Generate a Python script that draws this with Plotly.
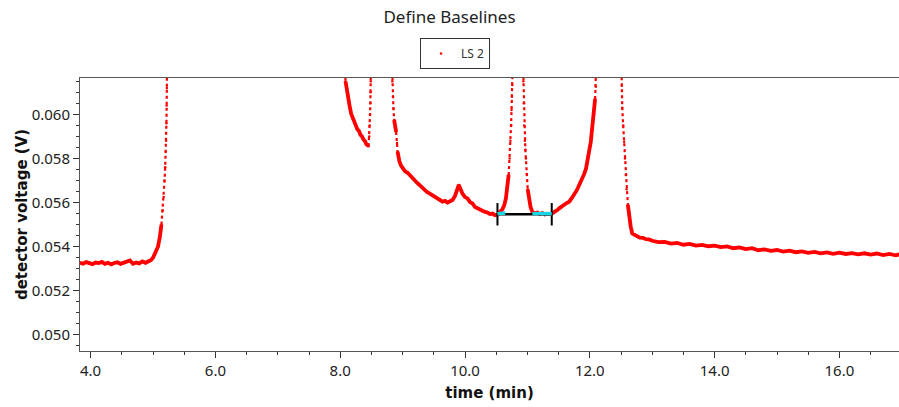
import plotly.graph_objects as go

# ---- data (time in min, detector voltage in V) ----
seg1_t = [3.83, 3.88, 3.93, 3.98, 4.03, 4.08, 4.13, 4.18, 4.23, 4.28, 4.33, 4.38, 4.43, 4.48, 4.53,
          4.58, 4.63, 4.68, 4.73, 4.78, 4.83, 4.88, 4.93, 4.97, 5.00, 5.04, 5.08, 5.11, 5.135, 5.155,
          5.17, 5.185, 5.195, 5.205, 5.21, 5.215, 5.219, 5.222, 5.226]
seg1_v = [0.05327, 0.05323, 0.05330, 0.05325, 0.05321, 0.05328, 0.05326, 0.05331, 0.05322, 0.05327,
          0.05320, 0.05326, 0.05329, 0.05322, 0.05326, 0.05331, 0.05338, 0.05323, 0.05328, 0.05324,
          0.05333, 0.05327, 0.05335, 0.05340, 0.05350, 0.05372, 0.05400, 0.05445, 0.05500, 0.05565,
          0.05625, 0.05700, 0.05760, 0.05830, 0.05880, 0.05960, 0.06040, 0.06120, 0.06250]

seg2_t = [8.078, 8.085, 8.10, 8.12, 8.135, 8.15, 8.175, 8.20, 8.225, 8.25, 8.275, 8.30, 8.325, 8.35,
          8.375, 8.40, 8.42, 8.44, 8.455, 8.465, 8.472, 8.478, 8.483, 8.487, 8.490, 8.494]
seg2_v = [0.06250, 0.06150, 0.06118, 0.06088, 0.06062, 0.06040, 0.06003, 0.05982, 0.05960, 0.05950,
          0.05932, 0.05925, 0.05907, 0.05900, 0.05885, 0.05878, 0.05864, 0.05860, 0.05856, 0.05900,
          0.05950, 0.06000, 0.06050, 0.06100, 0.06150, 0.06250]

seg3_t = [8.828, 8.835, 8.845, 8.853, 8.865, 8.88, 8.896, 8.91, 8.92, 8.935, 8.95, 8.975, 9.00, 9.04,
          9.08, 9.11, 9.15, 9.19, 9.23, 9.27, 9.31, 9.35, 9.39, 9.43, 9.48, 9.52, 9.56, 9.60, 9.64,
          9.68, 9.72, 9.76, 9.80, 9.84, 9.87, 9.90, 9.93, 9.96, 10.00, 10.04, 10.08, 10.12, 10.16,
          10.20, 10.24, 10.28, 10.32, 10.36, 10.40, 10.44, 10.48, 10.52, 10.56, 10.60, 10.63, 10.656,
          10.68, 10.70, 10.715, 10.728, 10.738, 10.746, 10.752, 10.758, 10.762, 10.766]
seg3_v = [0.06250, 0.06150, 0.06080, 0.06027, 0.05975, 0.05940, 0.05920, 0.05870, 0.05830, 0.05805,
          0.05785, 0.05768, 0.05755, 0.05742, 0.05735, 0.05725, 0.05712, 0.05702, 0.05690, 0.05680,
          0.05668, 0.05660, 0.05648, 0.05642, 0.05634, 0.05628, 0.05618, 0.05614, 0.05604, 0.05608,
          0.05600, 0.05606, 0.05612, 0.05630, 0.05650, 0.05680, 0.05660, 0.05640, 0.05625, 0.05619,
          0.05602, 0.05596, 0.05580, 0.05574, 0.05566, 0.05562, 0.05558, 0.05555, 0.05548, 0.05550,
          0.05543, 0.05545, 0.05555, 0.05570, 0.05589, 0.05620, 0.05680, 0.05725, 0.05800, 0.05880,
          0.05951, 0.06020, 0.06080, 0.06133, 0.06180, 0.06250]

seg4_t = [10.928, 10.935, 10.942, 10.949, 10.958, 10.967, 10.976, 10.99, 11.005, 11.029, 11.05, 11.08,
          11.12, 11.16, 11.20, 11.24, 11.28, 11.32, 11.36, 11.40, 11.44, 11.48, 11.51, 11.55, 11.59,
          11.63, 11.67, 11.71, 11.75, 11.79, 11.83, 11.87, 11.91, 11.94, 11.965, 11.99, 12.016,
          12.035, 12.055, 12.07, 12.085, 12.096, 12.105]
seg4_v = [0.06250, 0.06150, 0.06050, 0.05950, 0.05880, 0.05840, 0.05800, 0.05730, 0.05660, 0.05604,
          0.05580, 0.05558, 0.05552, 0.05555, 0.05548, 0.05552, 0.05546, 0.05550, 0.05548, 0.05552,
          0.05558, 0.05566, 0.05574, 0.05580, 0.05590, 0.05598, 0.05604, 0.05620, 0.05636, 0.05655,
          0.05680, 0.05702, 0.05730, 0.05755, 0.05790, 0.05830, 0.05876, 0.05930, 0.05985, 0.06027,
          0.06070, 0.06125, 0.06250]

seg5_t = [12.505, 12.512, 12.52, 12.535, 12.55, 12.563, 12.576, 12.59, 12.61, 12.63, 12.656, 12.68,
          12.72, 12.76, 12.80, 12.85, 12.90, 12.95,
          13.0, 13.1, 13.2, 13.3, 13.4, 13.5, 13.6, 13.7, 13.8, 13.9,
          14.0, 14.1, 14.2, 14.3, 14.4, 14.5, 14.6, 14.7, 14.8, 14.9,
          15.0, 15.1, 15.2, 15.3, 15.4, 15.5, 15.6, 15.7, 15.8, 15.9,
          16.0, 16.1, 16.2, 16.3, 16.4, 16.5, 16.6, 16.7, 16.8, 16.9, 16.96]
seg5_v = [0.06250, 0.06130, 0.06030, 0.05950, 0.05876, 0.05800, 0.05725, 0.05660, 0.05590, 0.05540,
          0.05490, 0.05460, 0.05452, 0.05447, 0.05441, 0.05440, 0.05434, 0.05433,
          0.05427, 0.05421, 0.05422, 0.05414, 0.05417, 0.05409, 0.05413, 0.05405, 0.05408, 0.05402,
          0.05405, 0.05398, 0.05401, 0.05393, 0.05397, 0.05389, 0.05393, 0.05384, 0.05388, 0.05381,
          0.05385, 0.05378, 0.05382, 0.05375, 0.05379, 0.05372, 0.05376, 0.05370, 0.05374, 0.05368,
          0.05373, 0.05367, 0.05371, 0.05365, 0.05370, 0.05364, 0.05369, 0.05362, 0.05367, 0.05361,
          0.05365]

# baseline definition (start / end time and level), highlighted baseline regions
baseline_t = [10.52, 11.39]
baseline_v = [0.05547, 0.05547]
region1_t = [10.52, 10.645]
region1_v = [0.05549, 0.05553]
region2_t = [11.08, 11.39]
region2_v = [0.05550, 0.05549]

series_name = "LS 2"
title_text = "Define Baselines"

# ---- split each segment into dense (solid) runs and steep (sparse/dotted) runs ----
STEEP = 0.03  # V/min: above this the detector points are visibly separated
solid_t, solid_v, dot_t, dot_v = [], [], [], []
all_t, all_v = [], []
for ts, vs in [(seg1_t, seg1_v), (seg2_t, seg2_v), (seg3_t, seg3_v), (seg4_t, seg4_v), (seg5_t, seg5_v)]:
    all_t += ts + [None]
    all_v += vs + [None]
    run_t, run_v, run_type = [ts[0]], [vs[0]], None
    for i in range(len(ts) - 1):
        steep = abs(vs[i + 1] - vs[i]) / (ts[i + 1] - ts[i]) > STEEP
        if run_type is not None and steep != run_type:
            tgt_t, tgt_v = (dot_t, dot_v) if run_type else (solid_t, solid_v)
            tgt_t += run_t + [None]
            tgt_v += run_v + [None]
            run_t, run_v = [ts[i]], [vs[i]]
        run_type = steep
        run_t.append(ts[i + 1])
        run_v.append(vs[i + 1])
    tgt_t, tgt_v = (dot_t, dot_v) if run_type else (solid_t, solid_v)
    tgt_t += run_t + [None]
    tgt_v += run_v + [None]

RED = "#ff0000"
fig = go.Figure()
fig.add_trace(go.Scatter(x=solid_t, y=solid_v, mode="lines", line=dict(color=RED, width=3.8),
                         connectgaps=False, showlegend=False, hoverinfo="skip"))
fig.add_trace(go.Scatter(x=dot_t, y=dot_v, mode="lines", line=dict(color=RED, width=2.2, dash="dot"),
                         connectgaps=False, showlegend=False, hoverinfo="skip"))
fig.add_trace(go.Scatter(x=all_t, y=all_v, mode="markers", name=series_name,
                         marker=dict(color=RED, size=2.5), showlegend=True))
fig.add_trace(go.Scatter(x=baseline_t, y=baseline_v, mode="lines+markers",
                         line=dict(color="black", width=2.5),
                         marker=dict(symbol="line-ns", size=16, line=dict(color="black", width=2)),
                         showlegend=False))
for rt, rv in [(region1_t, region1_v), (region2_t, region2_v)]:
    fig.add_trace(go.Scatter(x=rt, y=rv, mode="lines", line=dict(color="#14d8e6", width=3.5),
                             showlegend=False))

FONT = "Noto Sans, DejaVu Sans, sans-serif"
TFONT = "DejaVu Sans, sans-serif"
axis_common = dict(
    showline=True, linecolor="#555", linewidth=1, mirror=True,
    ticks="outside", ticklen=6, tickcolor="#333", tickwidth=1,
    showgrid=False, zeroline=False,
    tickfont=dict(family=FONT, size=15, color="#222"),
)

fig.update_layout(
    width=899, height=407,
    margin=dict(l=80, r=0, t=78, b=56),
    paper_bgcolor="white", plot_bgcolor="white",
    font=dict(family=FONT, color="#222"),
    title=dict(text=title_text, x=0.5, xref="container", xanchor="center",
               y=1 - 17 / 407, yref="container", yanchor="middle",
               font=dict(family=FONT, size=17, color="#222")),
    legend=dict(orientation="h", x=(455 - 80) / 819, xanchor="center",
                y=1 + (78 - 38) / 273, yanchor="top",
                bordercolor="#333", borderwidth=1, bgcolor="white",
                font=dict(family=FONT, size=12, color="#333")),
    xaxis=dict(range=[3.83, 16.955], dtick=2, tick0=0, tickformat=".1f",
               minor=dict(dtick=0.5, ticks="outside", ticklen=3, tickcolor="#333"),
               title=dict(text="<b>time (min)</b>", standoff=8,
                          font=dict(family=TFONT, size=15, color="#111")),
               **axis_common),
    yaxis=dict(range=[0.04927, 0.06165], dtick=0.002, tick0=0, tickformat=".3f",
               minor=dict(dtick=0.0005, ticks="outside", ticklen=3, tickcolor="#333"),
               title=dict(text="<b>detector voltage (V)</b>", standoff=0,
                          font=dict(family=TFONT, size=15, color="#111")),
               **axis_common),
)

fig.write_html("out.html")
